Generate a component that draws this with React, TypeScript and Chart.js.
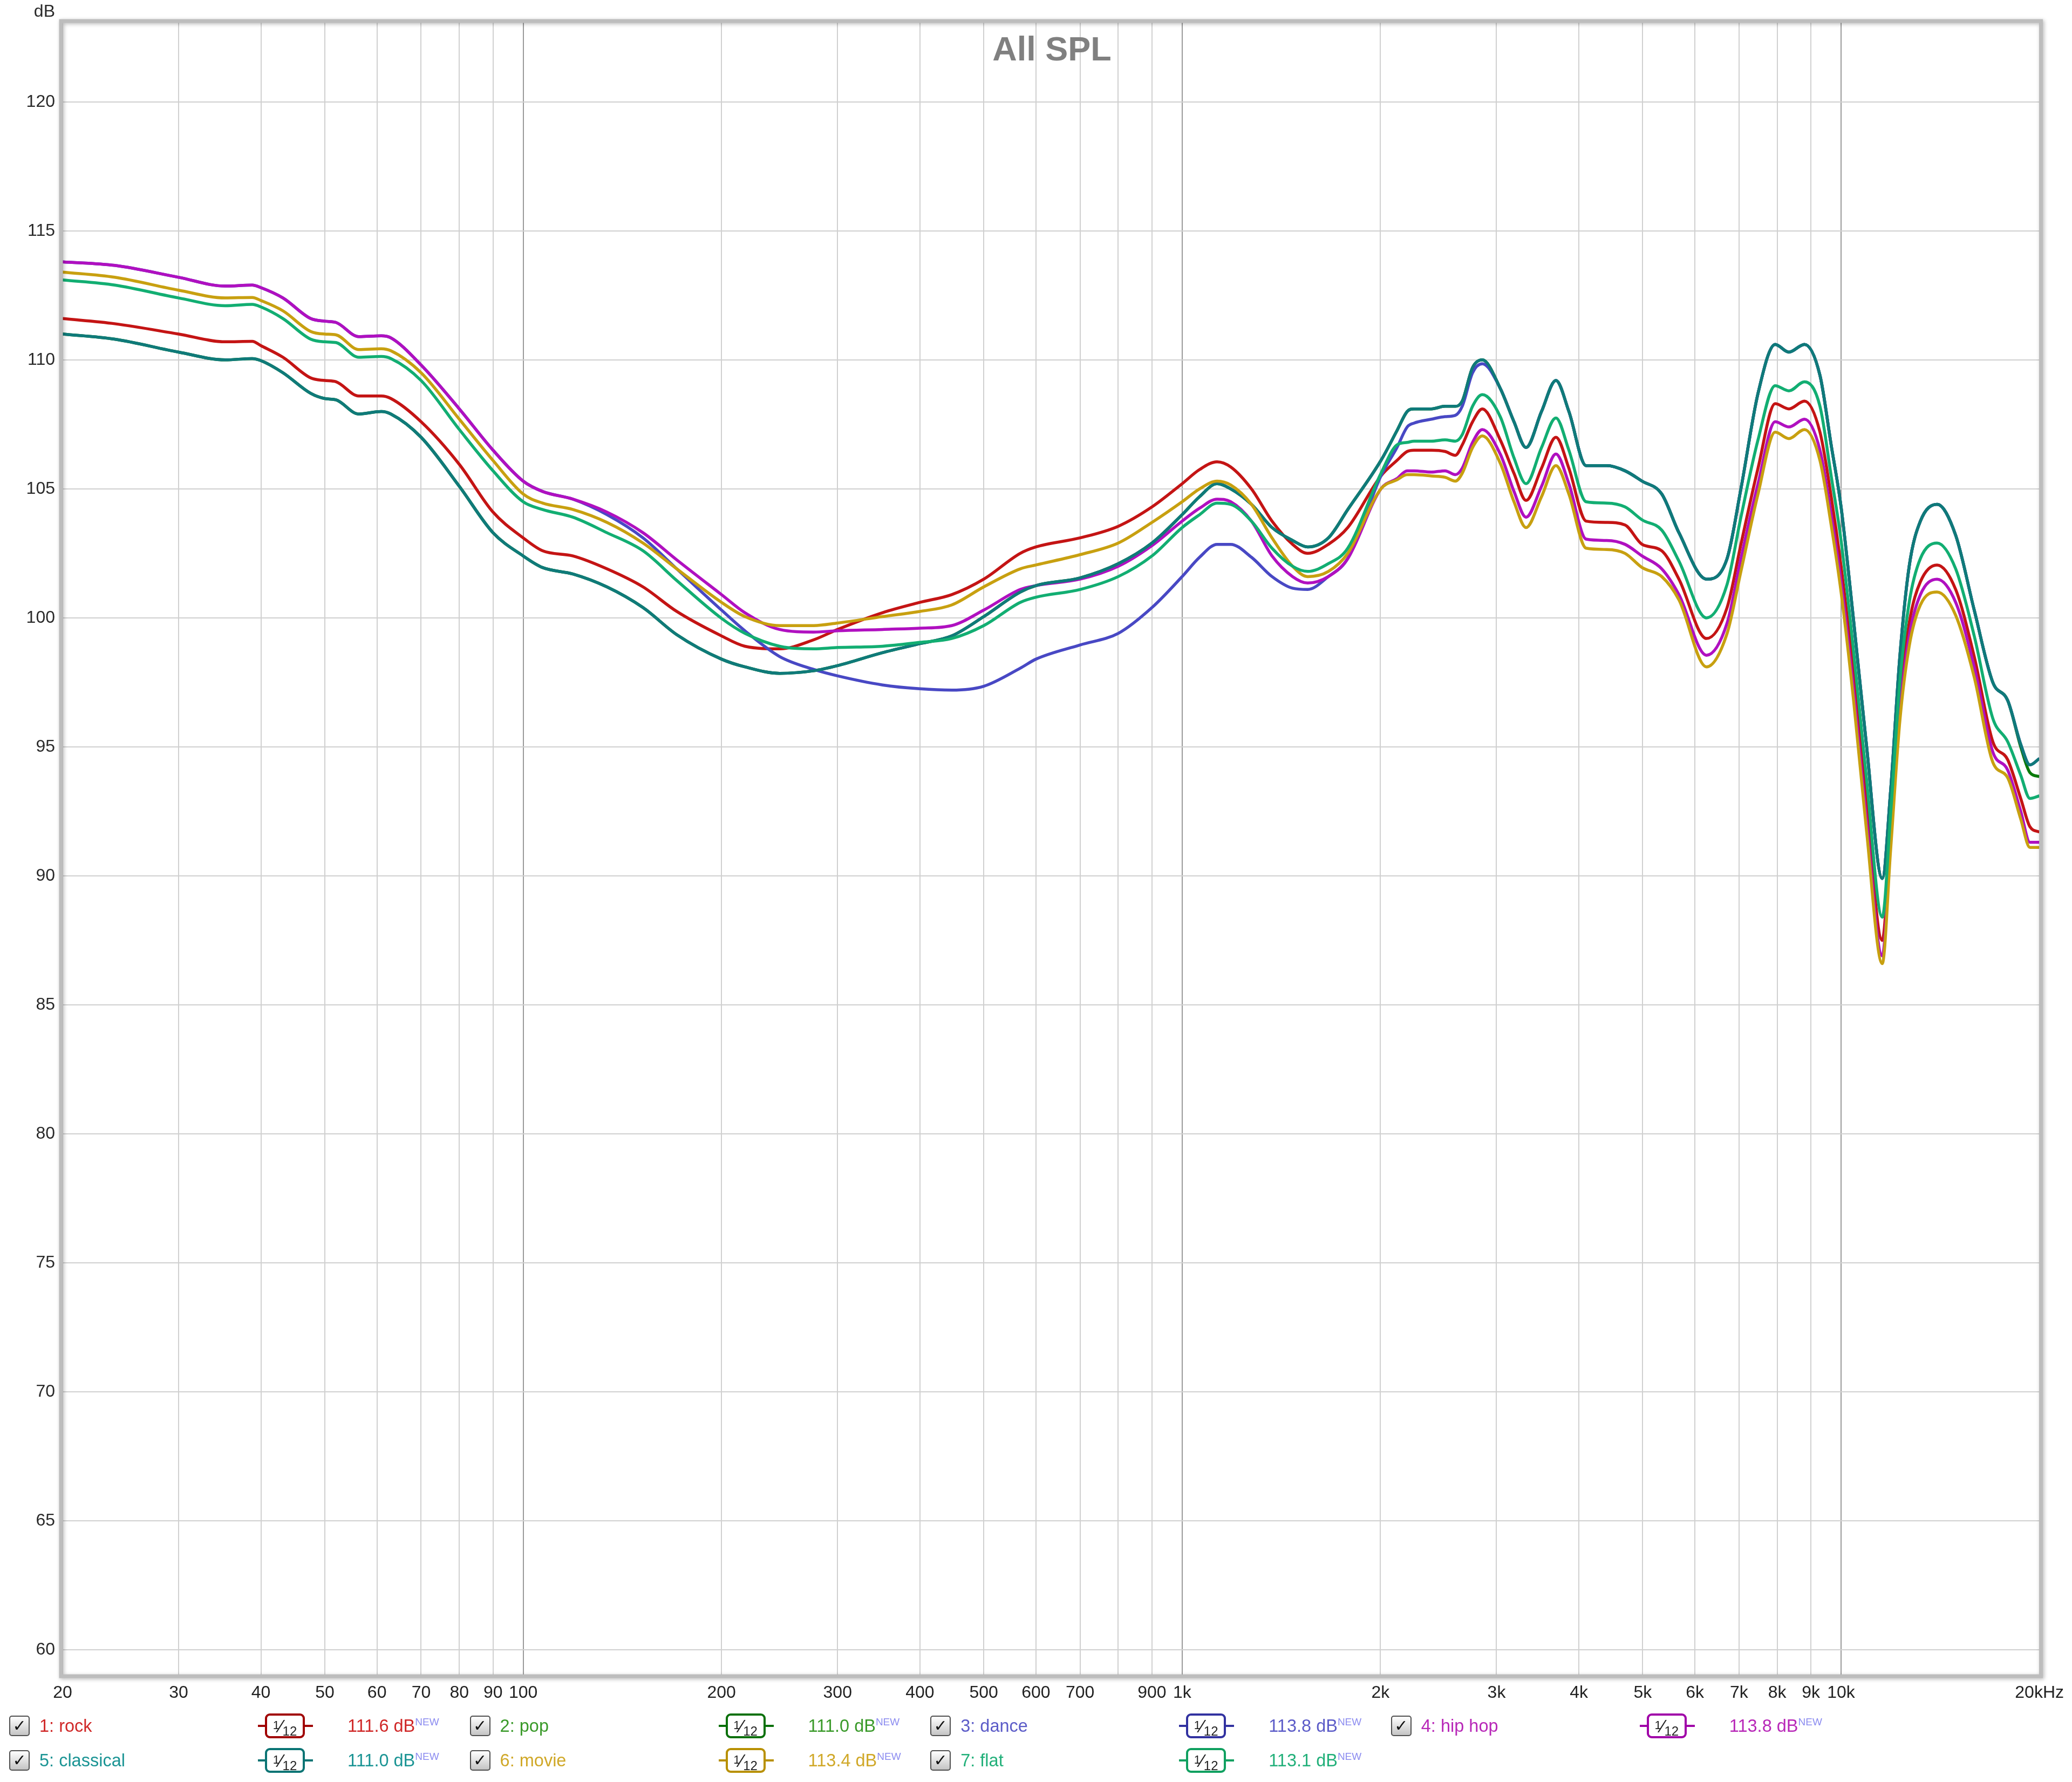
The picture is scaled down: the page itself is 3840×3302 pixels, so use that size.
import React, { useEffect, useRef } from 'react';
import { Chart, registerables } from 'chart.js';

Chart.register(...registerables);

const FREQS = [20, 24, 30, 35.3, 38.8, 40, 43.2, 47.6, 50, 52,
  56.3, 60.9, 63, 70, 80, 90, 100, 107, 119, 134,
  152, 171, 200, 217, 245, 276, 300, 351, 400, 447,
  500, 568, 600, 700, 800, 900, 1000, 1063, 1130, 1185,
  1274, 1369, 1471, 1551, 1667, 1784, 2003, 2118, 2196, 2249,
  2389, 2506, 2598, 2661, 2759, 2855, 3039, 3189, 3326, 3511,
  3692, 3863, 4103, 4410, 4700, 4989, 5344, 5675, 6249, 6715,
  7047, 7481, 7943, 8334, 8800, 9289, 9660, 10000, 10447, 10925,
  11547, 11890, 12280, 12688, 13195, 13986, 14925, 15925, 16994, 17900,
  18735, 19350, 20000];

const ROCK = [111.6, 111.4, 111.0, 110.7, 110.72, 110.55, 110.1, 109.3, 109.2, 109.15,
  108.6, 108.6, 108.5, 107.6, 105.95, 104.1, 103.1, 102.6, 102.4, 101.9,
  101.2, 100.25, 99.3, 98.9, 98.8, 99.15, 99.55, 100.2, 100.6, 100.9,
  101.5, 102.5, 102.75, 103.1, 103.55, 104.3, 105.2, 105.75, 106.05, 105.85,
  105.0, 103.75, 102.85, 102.5, 102.85, 103.5, 105.5, 106.1, 106.45, 106.5,
  106.5, 106.45, 106.3, 106.7, 107.6, 108.1, 106.9, 105.6, 104.55, 105.8,
  107.0, 105.8, 103.75, 103.7, 103.6, 102.85, 102.6, 101.5, 99.2, 100.4,
  102.85, 105.8, 108.3, 108.1, 108.4, 107.2, 104.7, 102.0, 97.8, 92.8,
  87.5, 91.8, 96.8, 99.8, 101.4, 102.05, 101.1, 98.5, 95.2, 94.5,
  93.0, 91.9, 91.7];

const POP = [111.0, 110.8, 110.3, 110.0, 110.05, 109.97, 109.5, 108.7, 108.5, 108.45,
  107.9, 108.0, 107.9, 107.0, 105.1, 103.3, 102.4, 101.95, 101.7, 101.2,
  100.4, 99.35, 98.4, 98.1, 97.85, 97.95, 98.15, 98.65, 99.0, 99.3,
  100.05, 101.0, 101.25, 101.55, 102.1, 102.9, 104.0, 104.7, 105.2, 105.0,
  104.4, 103.5, 103.0, 102.75, 103.1, 104.2, 106.1, 107.25, 108.0, 108.1,
  108.1, 108.2, 108.2, 108.4, 109.7, 110.0, 108.9, 107.6, 106.6, 108.0,
  109.2, 108.0, 105.9, 105.9, 105.7, 105.3, 104.8, 103.3, 101.5, 102.3,
  105.0, 108.7, 110.6, 110.3, 110.6, 109.4, 106.7, 104.3, 99.9, 95.1,
  89.9, 93.3, 98.5, 102.0, 103.75, 104.4, 103.2, 100.3, 97.5, 96.8,
  95.0, 94.0, 93.85];

const DANCE = [113.8, 113.66, 113.2, 112.86, 112.9, 112.8, 112.4, 111.6, 111.5, 111.45,
  110.9, 110.93, 110.85, 109.8, 108.1, 106.5, 105.3, 104.9, 104.6, 104.0,
  103.1, 101.9, 100.3, 99.5, 98.5, 98.0, 97.75, 97.4, 97.25, 97.2,
  97.35, 98.05, 98.4, 98.95, 99.4, 100.4, 101.6, 102.35, 102.85, 102.85,
  102.35, 101.6, 101.15, 101.1, 101.6, 102.3, 105.5, 106.6, 107.4, 107.55,
  107.7, 107.8, 107.85, 108.2, 109.5, 109.85, 108.9, 107.6, 106.6, 108.0,
  109.2, 108.0, 105.9, 105.9, 105.7, 105.3, 104.8, 103.3, 101.5, 102.3,
  105.0, 108.7, 110.6, 110.3, 110.6, 109.4, 106.7, 104.3, 99.9, 95.1,
  89.9, 93.3, 98.5, 102.0, 103.75, 104.4, 103.2, 100.3, 97.5, 96.8,
  95.1, 94.3, 94.55];

const HIPHOP = [113.8, 113.66, 113.2, 112.86, 112.9, 112.8, 112.4, 111.6, 111.5, 111.45,
  110.9, 110.93, 110.85, 109.8, 108.1, 106.5, 105.3, 104.9, 104.6, 104.1,
  103.3, 102.25, 100.9, 100.2, 99.55, 99.45, 99.5, 99.55, 99.6, 99.7,
  100.3, 101.1, 101.25, 101.5, 102.0, 102.8, 103.75, 104.25, 104.6, 104.5,
  103.75, 102.4, 101.6, 101.35, 101.6, 102.3, 105.0, 105.4, 105.7, 105.7,
  105.65, 105.7, 105.55, 105.8, 106.8, 107.3, 106.35, 104.9, 103.9, 105.1,
  106.35, 105.2, 103.05, 103.0, 102.85, 102.4, 101.9, 100.9, 98.55, 99.8,
  102.3, 105.2, 107.6, 107.4, 107.7, 106.5, 104.0, 101.4, 97.2, 92.2,
  86.9, 91.3, 96.3, 99.3, 100.9, 101.5, 100.6, 98.1, 94.8, 94.1,
  92.5, 91.3, 91.3];

const CLASSICAL = [111.0, 110.8, 110.3, 110.0, 110.05, 109.97, 109.5, 108.7, 108.5, 108.45,
  107.9, 108.0, 107.9, 107.0, 105.1, 103.3, 102.4, 101.95, 101.7, 101.2,
  100.4, 99.35, 98.4, 98.1, 97.85, 97.95, 98.15, 98.65, 99.0, 99.3,
  100.05, 101.0, 101.25, 101.55, 102.1, 102.9, 104.0, 104.7, 105.2, 105.0,
  104.4, 103.5, 103.0, 102.75, 103.1, 104.2, 106.1, 107.25, 108.0, 108.1,
  108.1, 108.2, 108.2, 108.4, 109.7, 110.0, 108.9, 107.6, 106.6, 108.0,
  109.2, 108.0, 105.9, 105.9, 105.7, 105.3, 104.8, 103.3, 101.5, 102.3,
  105.0, 108.7, 110.6, 110.3, 110.6, 109.4, 106.7, 104.3, 99.9, 95.1,
  89.9, 93.3, 98.5, 102.0, 103.75, 104.4, 103.2, 100.3, 97.5, 96.8,
  95.1, 94.3, 94.55];

const MOVIE = [113.4, 113.2, 112.7, 112.4, 112.42, 112.3, 111.9, 111.1, 111.0, 110.97,
  110.4, 110.43, 110.35, 109.5, 107.7, 106.1, 104.8, 104.45, 104.2, 103.7,
  102.9, 101.9, 100.6, 100.05, 99.7, 99.7, 99.8, 100.05, 100.25, 100.5,
  101.2, 101.9, 102.05, 102.45, 102.9, 103.7, 104.5, 105.0, 105.3, 105.15,
  104.4, 103.1, 102.0, 101.6, 101.8, 102.5, 105.0, 105.35, 105.55, 105.55,
  105.5, 105.45, 105.3, 105.6, 106.6, 107.05, 106.0, 104.5, 103.5, 104.7,
  105.9, 104.8, 102.7, 102.65, 102.5, 101.95, 101.6, 100.7, 98.1, 99.4,
  101.8, 104.8, 107.2, 106.95, 107.3, 106.1, 103.6, 101.0, 96.8, 91.8,
  86.6, 91.0, 96.0, 98.9, 100.5, 101.0, 100.1, 97.7, 94.4, 93.8,
  92.2, 91.1, 91.1];

const FLAT = [113.1, 112.9, 112.4, 112.1, 112.15, 112.05, 111.6, 110.8, 110.7, 110.67,
  110.1, 110.13, 110.05, 109.2, 107.3, 105.7, 104.5, 104.2, 103.9, 103.3,
  102.6, 101.45, 99.98, 99.4, 98.9, 98.8, 98.85, 98.9, 99.05, 99.2,
  99.7, 100.6, 100.8, 101.1, 101.6, 102.4, 103.5, 104.0, 104.45, 104.4,
  103.75, 102.7, 102.0, 101.8, 102.1, 102.7, 105.6, 106.7, 106.8, 106.85,
  106.85, 106.9, 106.85, 107.1, 108.2, 108.65, 107.8, 106.2, 105.2, 106.6,
  107.75, 106.5, 104.5, 104.45, 104.3, 103.8, 103.4, 102.2, 100.0, 101.3,
  103.9, 106.9, 109.0, 108.8, 109.15, 108.2, 105.5, 103.0, 98.7, 93.8,
  88.4, 92.4, 97.5, 100.6, 102.3, 102.9, 101.9, 99.3, 96.1, 95.2,
  93.9, 93.0, 93.1];

const SERIES = [ROCK, POP, DANCE, HIPHOP, CLASSICAL, MOVIE, FLAT];
const SERIES_NAMES = ['1: rock', '2: pop', '3: dance', '4: hip hop', '5: classical', '6: movie', '7: flat'];
const SERIES_LEVELS = ['111.6 dB', '111.0 dB', '113.8 dB', '113.8 dB', '111.0 dB', '113.4 dB', '113.1 dB'];
const LINE_COLORS = ['#c41414', '#0a7a0a', '#4848c4', '#b010c0', '#0f7a7a', '#c8a010', '#12ae72'];
const TEXT_COLORS = ['#d02828', '#3a9a2a', '#5c5cc8', '#b828b8', '#1a9494', '#d0a828', '#22b07a'];
const BADGE_COLORS = ['#a00000', '#0a700a', '#3232a0', '#a000a8', '#0a7474', '#b89000', '#10a060'];

const Y_TICKS = [60, 65, 70, 75, 80, 85, 90, 95, 100, 105, 110, 115, 120];
const X_TICKS = [20, 30, 40, 50, 60, 70, 80, 90, 100, 200, 300, 400, 500, 600, 700, 800, 900, 1000,
  2000, 3000, 4000, 5000, 6000, 7000, 8000, 9000, 10000, 20000];
const X_TICK_LABELS = ['20', '30', '40', '50', '60', '70', '80', '90', '100', '200', '300', '400', '500', '600', '700', '', '900', '1k',
  '2k', '3k', '4k', '5k', '6k', '7k', '8k', '9k', '10k', '20kHz'];
const DECADES = [100, 1000, 10000];

const FONT = "'Liberation Sans', Arial, Helvetica, sans-serif";
const W = 3840;
const H = 3302;

const framePlugin = {
  id: 'frame',
  afterDraw(chart: any) {
    const { ctx, chartArea } = chart;
    const { left, top, right, bottom } = chartArea;
    ctx.save();
    ctx.shadowColor = 'rgba(0,0,0,0.28)';
    ctx.shadowBlur = 7;
    ctx.shadowOffsetX = 2;
    ctx.shadowOffsetY = 2;
    ctx.strokeStyle = '#bdbdbd';
    ctx.lineWidth = 7;
    ctx.strokeRect(left - 3, top - 3, right - left + 6, bottom - top + 6);
    ctx.restore();
  },
};

function Badge({ color }: { color: string }) {
  return (
    <div style={{ position: 'absolute', left: 0, top: 0, width: 102, height: 46 }}>
      <div style={{ position: 'absolute', left: 0, top: 21, width: 102, height: 4, background: color }} />
      <div style={{
        position: 'absolute', left: 13, top: 0, width: 66, height: 38, border: `4px solid ${color}`,
        borderRadius: 9, background: '#fff', color: '#222', fontFamily: FONT, lineHeight: '38px',
        textAlign: 'center', whiteSpace: 'nowrap',
      }}>
        <span style={{ fontSize: 22, position: 'relative', top: -6 }}>1</span>
        <span style={{ fontSize: 34 }}>⁄</span>
        <span style={{ fontSize: 24, position: 'relative', top: 6 }}>12</span>
      </div>
    </div>
  );
}

function LegendItem({ i }: { i: number }) {
  const row = i < 4 ? 0 : 1;
  const col = i < 4 ? i : i - 4;
  const x0 = col * 853.6;
  const cy = row === 0 ? 3198 : 3262;
  return (
    <>
      <div style={{
        position: 'absolute', left: x0 + 17, top: cy - 19, width: 34, height: 34,
        border: '2px solid #505050', borderRadius: 5,
        background: 'linear-gradient(#ffffff, #c4c4c4)', fontFamily: "'DejaVu Sans', sans-serif",
        fontSize: 30, lineHeight: '34px', textAlign: 'center', color: '#111', fontWeight: 'bold',
      }}>✓</div>
      <div style={{
        position: 'absolute', left: x0 + 73, top: cy - 20, height: 40, lineHeight: '40px',
        fontFamily: FONT, fontSize: 32.5, color: TEXT_COLORS[i], whiteSpace: 'nowrap',
      }}>{SERIES_NAMES[i]}</div>
      <div style={{ position: 'absolute', left: x0 + 478, top: cy - 23, width: 102, height: 46 }}>
        <Badge color={BADGE_COLORS[i]} />
      </div>
      <div style={{
        position: 'absolute', left: x0 + 644, top: cy - 20, height: 40, lineHeight: '40px',
        fontFamily: FONT, fontSize: 32.5, color: TEXT_COLORS[i], whiteSpace: 'nowrap',
      }}>
        {SERIES_LEVELS[i]}
        <span style={{ fontSize: 19, color: '#8c8cf0', position: 'relative', top: -12 }}>NEW</span>
      </div>
    </>
  );
}

export default function App() {
  const ref = useRef<HTMLCanvasElement>(null);

  useEffect(() => {
    const canvas = ref.current;
    if (!canvas) return;
    const datasets = SERIES.map((vals, i) => ({
      label: SERIES_NAMES[i],
      data: FREQS.map((f, k) => ({ x: f, y: vals[k] })),
      borderColor: LINE_COLORS[i],
      backgroundColor: LINE_COLORS[i],
      borderWidth: 5.5,
      pointRadius: 0,
      cubicInterpolationMode: 'monotone' as const,
      fill: false,
      order: 10 - i,
    }));
    const chart = new Chart(canvas, {
      type: 'line',
      data: { datasets: datasets as any },
      options: {
        animation: false,
        responsive: false,
        maintainAspectRatio: false,
        events: [],
        layout: { padding: { top: 42, right: 57, bottom: 139, left: 0 } },
        plugins: {
          legend: { display: false },
          tooltip: { enabled: false },
          title: { display: false },
        },
        scales: {
          x: {
            type: 'logarithmic',
            min: 20,
            max: 20000,
            afterBuildTicks: (s: any) => { s.ticks = X_TICKS.map((v) => ({ value: v })); },
            afterFit: (s: any) => { s.height = 60; },
            ticks: {
              autoSkip: false,
              maxRotation: 0,
              minRotation: 0,
              padding: 15,
              color: '#222',
              font: { size: 32, family: FONT },
              callback: (v: any) => {
                const idx = X_TICKS.indexOf(Number(v));
                return idx >= 0 ? X_TICK_LABELS[idx] : '';
              },
            },
            grid: {
              drawTicks: false,
              lineWidth: 2,
              color: (ctx: any) => (ctx.tick && DECADES.includes(ctx.tick.value) ? '#9a9a9a' : '#d0d0d0'),
            },
            border: { display: false },
          },
          y: {
            type: 'linear',
            min: 59.04,
            max: 123.07,
            afterBuildTicks: (s: any) => { s.ticks = Y_TICKS.map((v) => ({ value: v })); },
            afterFit: (s: any) => { s.width = 116; },
            ticks: {
              padding: 14,
              color: '#2a2a2a',
              font: { size: 32, family: FONT },
              callback: (v: any) => String(v),
            },
            grid: { drawTicks: false, lineWidth: 2, color: '#d0d0d0' },
            border: { display: false },
          },
        },
      },
      plugins: [framePlugin],
    });
    return () => chart.destroy();
  }, []);

  return (
    <div style={{ position: 'absolute', left: 0, top: 0, width: W, height: H, background: '#fff', overflow: 'hidden' }}>
      <canvas ref={ref} width={W} height={H} style={{ position: 'absolute', left: 0, top: 0, width: W, height: H }} />
      <div style={{
        position: 'absolute', left: 0, top: 4, width: 102, textAlign: 'right', fontFamily: FONT,
        fontSize: 32, lineHeight: '32px', color: '#2a2a2a',
      }}>dB</div>
      <div style={{
        position: 'absolute', left: 116, top: 59, width: 3667, textAlign: 'center', fontFamily: FONT,
        fontSize: 63, lineHeight: '63px', fontWeight: 'bold', color: '#808080',
      }}>All SPL</div>
      {SERIES.map((_, i) => <LegendItem key={i} i={i} />)}
    </div>
  );
}
